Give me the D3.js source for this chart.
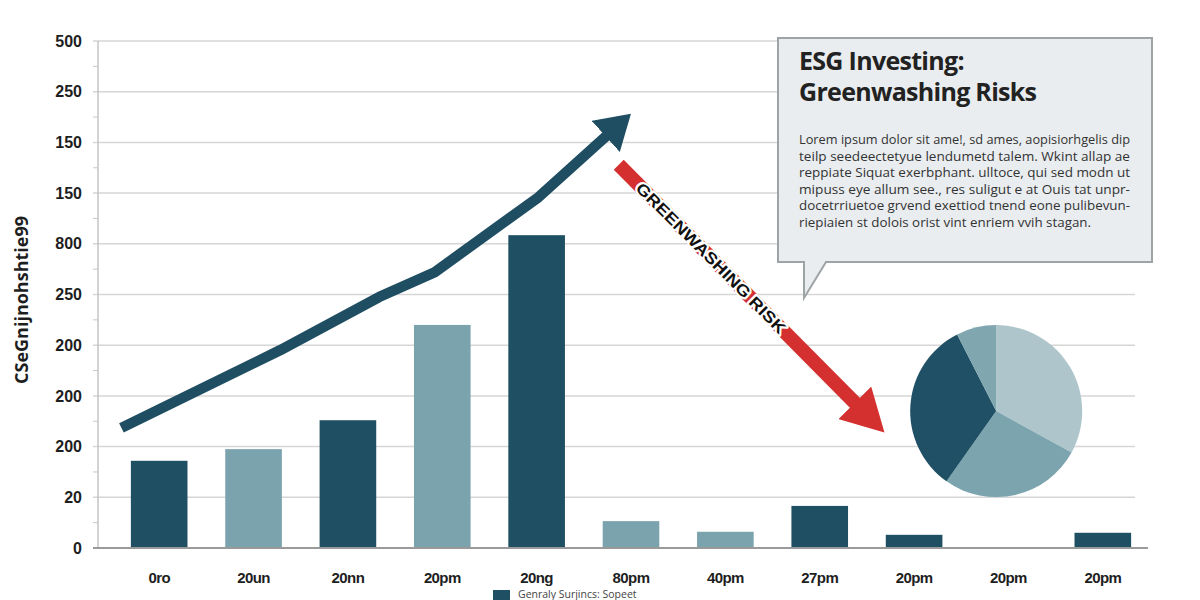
<!DOCTYPE html>
<html>
<head>
<meta charset="utf-8">
<script src="https://cdn.jsdelivr.net/npm/d3@7"></script>
<style>
  body { margin: 0; background: #fff; }
  svg { display: block; font-family: "Open Sans", "Liberation Sans", sans-serif; }
</style>
</head>
<body>
<div id="chart"></div>
<script>
// tick labels, bottom to top (as printed on the chart)
var yTickLabels = ["0", "20", "200", "200", "200", "250", "800", "150", "150", "250", "500"];
var categories = ["0ro", "20un", "20nn", "20pm", "20ng", "80pm", "40pm", "27pm", "20pm", "20pm", "20pm"];
var barValues = [1.72, 1.95, 2.52, 4.40, 6.17, 0.53, 0.32, 0.83, 0.26, 0, 0.30];
var barShade = ["dark", "light", "dark", "light", "dark", "light", "light", "dark", "dark", "dark", "dark"];

// trend arrow, x in category index, y in axis units
var trendX = [-0.40, 1.28, 2.33, 2.92, 4.02, 4.74];
var trendY = [2.37, 3.90, 4.95, 5.44, 6.92, 8.13];

// greenwashing arrow (start, end of shaft)
var riskX = [4.87, 7.38];
var riskY = [7.56, 2.85];

// pie
var pieValues = [33, 26.8, 32.7, 7.5];
var pieColors = ["#aec6cb", "#7ba4ae", "#1f5065", "#80a6b0"];
var pieCenter = [8.87, 2.70];

var calloutTitle = ["ESG Investing:", "Greenwashing Risks"];
var calloutBody = [
  "Lorem ipsum dolor sit ame!, sd ames, aopisiorhgelis dip",
  "teilp  seedeectetyue lendumetd talem. Wkint allap ae",
  "reppiate Siquat exerbphant. ulltoce, qui sed modn ut",
  "mipuss eye allum see., res suligut  e at  Ouis tat unpr-",
  "docetrriuetoe grvend exettiod tnend eone pulibevun-",
  "riepiaien st dolois orist vint enriem vvih stagan."
];
var legendLabel = "Genraly Surjincs: Sopeet";

var W = 1200, H = 600;
var colors = { dark: "#1f4f62", light: "#7ba3ad" };

var svg = d3.select("#chart").append("svg")
    .attr("width", W).attr("height", H);

var x = d3.scaleBand().domain(d3.range(categories.length))
    .range([112, 1150]).paddingInner(0.4).paddingOuter(0.2);
var xi = d3.scaleLinear().domain([0, 1]).range([x(0) + x.bandwidth() / 2, x(1) + x.bandwidth() / 2]);
var y = d3.scaleLinear().domain([0, 10]).range([548, 41]);

var plotLeft = 98, plotRight = 1135;

// gridlines
svg.append("g").selectAll("line")
  .data(d3.range(1, 11))
  .enter().append("line")
    .attr("x1", plotLeft - 5).attr("x2", plotRight)
    .attr("y1", d => y(d)).attr("y2", d => y(d))
    .attr("stroke", "#d6d6d6").attr("stroke-width", 1.5);

// minor ticks
svg.append("g").selectAll("line")
  .data(d3.range(0.5, 10, 1))
  .enter().append("line")
    .attr("x1", plotLeft - 5).attr("x2", plotLeft)
    .attr("y1", d => y(d)).attr("y2", d => y(d))
    .attr("stroke", "#c8c8c8").attr("stroke-width", 1);

svg.append("line")
  .attr("x1", plotLeft).attr("x2", plotLeft)
  .attr("y1", y(10)).attr("y2", y(0))
  .attr("stroke", "#c4c4c4").attr("stroke-width", 1.5);

// y axis labels
var yAxis = d3.axisLeft(y).ticks(10).tickSize(0).tickPadding(16)
    .tickFormat(d => yTickLabels[d]);
var gy = svg.append("g").attr("transform", "translate(" + plotLeft + ",0)").call(yAxis);
gy.select(".domain").remove();
gy.selectAll("text")
  .style("font-size", "16px").style("font-weight", 700).attr("fill", "#1e1e1e");

// bars
svg.append("g").selectAll("rect")
  .data(barValues)
  .enter().append("rect")
    .attr("x", (d, i) => x(i))
    .attr("width", x.bandwidth())
    .attr("y", d => y(d))
    .attr("height", d => y(0) - y(d))
    .attr("fill", (d, i) => colors[barShade[i]]);

// baseline
svg.append("line")
  .attr("x1", plotLeft - 5).attr("x2", 1148)
  .attr("y1", y(0)).attr("y2", y(0))
  .attr("stroke", "#9a9a9a").attr("stroke-width", 2);

// x axis labels
var xAxis = d3.axisBottom(x).tickSize(0).tickPadding(24).tickFormat(i => categories[i]);
var gx = svg.append("g").attr("transform", "translate(0," + y(0) + ")").call(xAxis);
gx.select(".domain").remove();
gx.selectAll("text")
  .style("font-size", "15px").style("font-weight", 700).attr("fill", "#1e1e1e")
  .style("letter-spacing", "-0.6px");

// y axis title
svg.append("text")
  .attr("transform", "translate(28,300) rotate(-90)")
  .attr("text-anchor", "middle")
  .style("font-size", "18px").style("font-weight", 700).attr("fill", "#1e1e1e")
  .text("CSeGnijnohshtie99");

// markers
var defs = svg.append("defs");
defs.append("marker").attr("id", "headBlue")
  .attr("markerUnits", "userSpaceOnUse")
  .attr("viewBox", "0 -21 34 42").attr("markerWidth", 34).attr("markerHeight", 42)
  .attr("refX", 1).attr("refY", 0).attr("orient", "auto")
  .append("path").attr("d", "M0,-21L34,0L0,21Z").attr("fill", "#1f4e62");
defs.append("marker").attr("id", "headRed")
  .attr("markerUnits", "userSpaceOnUse")
  .attr("viewBox", "0 -23 42 46").attr("markerWidth", 42).attr("markerHeight", 46)
  .attr("refX", 1).attr("refY", 0).attr("orient", "auto")
  .append("path").attr("d", "M0,-23L42,0L0,23Z").attr("fill", "#d3302f");

// trend arrow
var trendLine = d3.line().x(d => xi(d[0])).y(d => y(d[1]));
svg.append("path")
  .datum(d3.zip(trendX, trendY))
  .attr("d", trendLine)
  .attr("fill", "none")
  .attr("stroke", "#1f4e62").attr("stroke-width", 10.5)
  .attr("stroke-linejoin", "round")
  .attr("marker-end", "url(#headBlue)");

// greenwashing arrow
svg.append("path")
  .datum(d3.zip(riskX, riskY))
  .attr("d", trendLine)
  .attr("fill", "none")
  .attr("stroke", "#d3302f").attr("stroke-width", 14)
  .attr("marker-end", "url(#headRed)");

var rx0 = xi(riskX[0]), ry0 = y(riskY[0]), rx1 = xi(riskX[1]), ry1 = y(riskY[1]);
var ang = Math.atan2(ry1 - ry0, rx1 - rx0) * 180 / Math.PI;
var tx = rx0 + (rx1 - rx0) * 0.39, ty = ry0 + (ry1 - ry0) * 0.39;
svg.append("text")
  .attr("transform", "translate(" + tx + "," + ty + ") rotate(" + ang + ")")
  .attr("text-anchor", "middle").attr("dy", "0.36em")
  .style("font-size", "16px").style("font-weight", 700)
  .style("font-family", "'Liberation Sans', sans-serif")
  .attr("fill", "#111")
  .attr("stroke", "#fff").attr("stroke-width", 4).attr("stroke-linejoin", "round")
  .attr("paint-order", "stroke")
  .attr("textLength", 205).attr("lengthAdjust", "spacingAndGlyphs")
  .text("GREENWASHING RISK");

// pie
var pie = d3.pie().sort(null);
var arc = d3.arc().innerRadius(0).outerRadius(86);
svg.append("g")
  .attr("transform", "translate(" + xi(pieCenter[0]) + "," + y(pieCenter[1]) + ")")
  .selectAll("path")
  .data(pie(pieValues))
  .enter().append("path")
    .attr("d", arc)
    .attr("fill", (d, i) => pieColors[i]);

// callout
var bx = 778, by = 38, bw = 374, bh = 224;
svg.append("path")
  .attr("d", "M" + bx + "," + by + "H" + (bx + bw) + "V" + (by + bh) +
        "H826L804,298V" + (by + bh) + "H" + bx + "Z")
  .attr("fill", "#e9edef").attr("stroke", "#9ea3a6").attr("stroke-width", 2);

svg.append("g").selectAll("text")
  .data(calloutTitle)
  .enter().append("text")
    .attr("x", 799).attr("y", (d, i) => 70 + i * 31)
    .style("font-size", "25px").style("font-weight", 700)
    .style("letter-spacing", "-0.7px")
    .attr("fill", "#222")
    .text(d => d);

svg.append("g").selectAll("text")
  .data(calloutBody)
  .enter().append("text")
    .attr("x", 799).attr("y", (d, i) => 144 + i * 16.6)
    .style("font-size", "13px")
    .attr("fill", "#333")
    .attr("textLength", (d, i) => i < calloutBody.length - 1 ? 331 : 292)
    .attr("lengthAdjust", "spacingAndGlyphs")
    .text(d => d);

// legend
svg.append("rect")
  .attr("x", 493).attr("y", 590).attr("width", 17).attr("height", 10)
  .attr("fill", colors.dark);
svg.append("text")
  .attr("x", 518).attr("y", 597.5)
  .style("font-size", "10.5px").attr("fill", "#444")
  .text(legendLabel);
</script>
</body>
</html>
